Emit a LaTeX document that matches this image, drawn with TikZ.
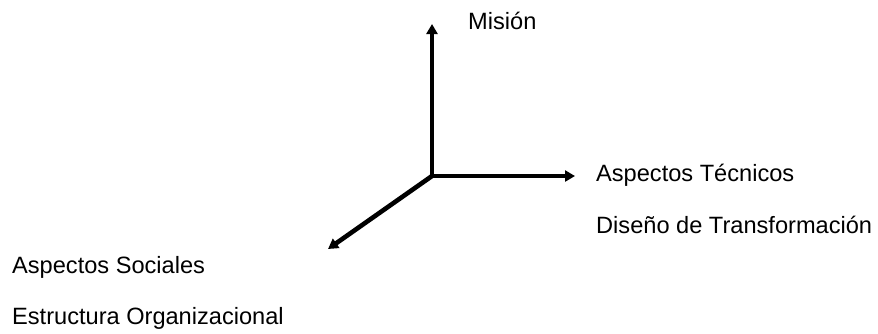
\documentclass[tikz,border=0pt]{standalone}
\usepackage{fontspec}
\setmainfont{Liberation Sans}
\usetikzlibrary{arrows.meta, positioning, calc}

\begin{document}
\begin{tikzpicture}[
  x=1pt, y=-1pt,
  axis/.style={line width=4.6pt, -{Triangle[length=10pt, width=11pt]}},
  lbl/.style={anchor=base west, inner sep=0pt, font=\fontsize{23.6pt}{28pt}\selectfont}
]
  \useasboundingbox (0,0) rectangle (878,333);

  % Axes
  \coordinate (O)  at (432,176);
  \coordinate (UP) at (432,24);
  \coordinate (RT) at (575,176);
  \coordinate (DL) at (328,249);

  \draw[axis] ([yshift=2.3pt]O) -- (UP);
  \draw[axis] ([xshift=-2.3pt]O) -- (RT);
  \draw[axis] (O) -- (DL);

  % Labels
  \node[lbl] (mision)  at (468,29)  {Misión};
  \node[lbl] (tecnico) at (596,181) {Aspectos Técnicos};
  \node[lbl] (diseno)  at (596,233) {Diseño de Transformación};
  \node[lbl] (social)  at (12,273)  {Aspectos Sociales};
  \node[lbl] (estruct) at (12,324)  {Estructura Organizacional};

\end{tikzpicture}
\end{document}
